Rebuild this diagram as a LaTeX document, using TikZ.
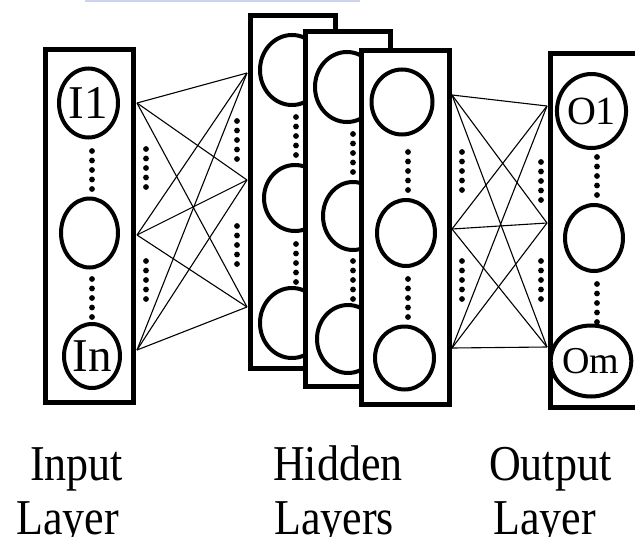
\documentclass[tikz,border=0pt]{standalone}
\usepackage{fontspec}
\setmainfont{Liberation Serif}
\usetikzlibrary{shapes.geometric}
\definecolor{haze}{RGB}{205,210,238}
\tikzset{
  layerbox/.style={draw, line width=5pt, fill=white, inner sep=0pt, rectangle},
  neuron/.style={draw, ellipse, line width=4pt, fill=white, inner sep=0pt,
                 font=\fontsize{47}{47}\selectfont},
  outneuron/.style={neuron, font=\fontsize{40}{40}\selectfont},
  link/.style={line width=1.1pt},
  caption/.style={anchor=base west, inner sep=0pt, font=\fontsize{44}{44}\selectfont},
  pics/dotcol/.style={code={\foreach \k in {0,...,4} \fill (0,\k*9.5) circle (2.9pt);}},
}
\begin{document}
\begin{tikzpicture}[x=1pt,y=-1pt]
\useasboundingbox (0,0) rectangle (635,536);
\clip (0,0) rectangle (635,536);
\fill[white] (0,0) rectangle (635,536);
\fill[haze] (85,0) rectangle (360,1.5);

% ---- input layer ----
\node[layerbox, minimum width=88pt, minimum height=353pt] (inbox) at (89.5,225.5) {};
\node[neuron, minimum width=59pt, minimum height=69pt] (i1) at (88.5,103) {I1};
\node[neuron, minimum width=57pt, minimum height=69pt] (i2) at (89.5,233) {};
\node[neuron, minimum width=56pt, minimum height=64pt] (i3) at (92,356) {In};
\pic at (92,151) {dotcol};
\pic at (92,279) {dotcol};

% ---- hidden layers (back to front) ----
\node[layerbox, minimum width=85pt, minimum height=353pt] (hbox1) at (292.5,191.5) {};
\node[neuron, minimum width=64pt, minimum height=70pt] (h11) at (292,70) {};
\node[neuron, minimum width=62pt, minimum height=66pt] (h12) at (295,198) {};
\node[neuron, minimum width=64pt, minimum height=70pt] (h13) at (292,323) {};
\pic at (296,117) {dotcol};
\pic at (296,244) {dotcol};

\node[layerbox, minimum width=85pt, minimum height=355pt] (hbox2) at (347.5,208.5) {};
\node[neuron, minimum width=64pt, minimum height=70pt] (h21) at (347,87) {};
\node[neuron, minimum width=60pt, minimum height=68pt] (h22) at (353,216) {};
\node[neuron, minimum width=62pt, minimum height=68pt] (h23) at (348,339) {};
\pic at (353,134) {dotcol};
\pic at (353,261) {dotcol};

\node[layerbox, minimum width=88pt, minimum height=354pt] (hbox3) at (405,227) {};
\node[neuron, minimum width=61pt, minimum height=65pt] (h31) at (402,102) {};
\node[neuron, minimum width=58pt, minimum height=66pt] (h32) at (406,233) {};
\node[neuron, minimum width=59pt, minimum height=63pt] (h33) at (404.5,358) {};
\pic at (408,152) {dotcol};
\pic at (408,279) {dotcol};

% ---- output layer (its right side runs off the page) ----
\node[layerbox, minimum width=150pt, minimum height=354pt] (outbox) at (625,230) {};
\node[outneuron, minimum width=59pt, minimum height=74pt] (o1) at (591.5,111) {O1};
\node[outneuron, minimum width=54pt, minimum height=71pt, font=\fontsize{38}{38}\selectfont] (o3) at (591,361) {Om};
\node[outneuron, minimum width=58pt, minimum height=66pt] (o2) at (594,238) {};
\pic at (597,157) {dotcol};
\pic at (597,284) {dotcol};

% ---- connection ends on the box edges ----
\coordinate (ia) at (137,103);
\coordinate (ib) at (137,235);
\coordinate (ic) at (137,350);
\coordinate (ha) at (247,73);
\coordinate (hb) at (247,180);
\coordinate (hc) at (247,307);
\coordinate (ka) at (452,95);
\coordinate (kb) at (452,229);
\coordinate (kc) at (452,348);
\coordinate (oa) at (547,106);
\coordinate (ob) at (547,223);
\coordinate (oc) at (547,347);

\foreach \s in {ia,ib,ic}
  \foreach \t in {ha,hb,hc}
    \draw[link] (\s) -- (\t);
\foreach \s in {ka,kb,kc}
  \foreach \t in {oa,ob,oc}
    \draw[link] (\s) -- (\t);

\pic at (146,149) {dotcol};
\pic at (146,261) {dotcol};
\pic at (237,121) {dotcol};
\pic at (237,226) {dotcol};
\pic at (462,152) {dotcol};
\pic at (462,261) {dotcol};
\pic at (541,162) {dotcol};
\pic at (541,261) {dotcol};

% ---- captions ----
\node[caption] (cin1) at (30,480) {\scalebox{1}[1.14]{Input}};
\node[caption] (cin2) at (16,534) {\scalebox{1}[1.14]{Layer}};
\node[caption] (chid1) at (273,480) {\scalebox{1}[1.14]{Hidden}};
\node[caption] (chid2) at (274,534) {\scalebox{1}[1.14]{Layers}};
\node[caption] (cout1) at (489,480) {\scalebox{1}[1.14]{Output}};
\node[caption] (cout2) at (493,534) {\scalebox{1}[1.14]{Layer}};
\end{tikzpicture}
\end{document}
